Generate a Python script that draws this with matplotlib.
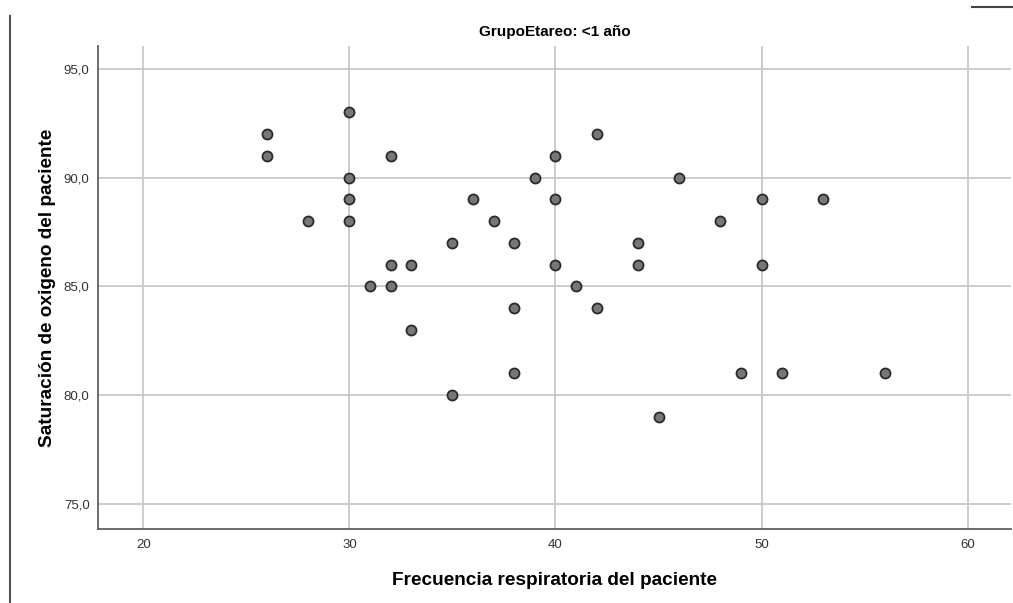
import matplotlib.pyplot as plt
from matplotlib.lines import Line2D

# respiratory rate vs oxygen saturation, age group <1 year
freq_resp = [26, 26, 28, 30, 30, 30, 30, 31, 32, 32, 32, 33, 33, 35, 35, 36, 37,
             38, 38, 38, 39, 40, 40, 40, 41, 42, 42, 44, 44, 45, 46, 48, 49, 50,
             50, 51, 53, 56]
saturacion = [92, 91, 88, 93, 90, 89, 88, 85, 91, 86, 85, 86, 83, 87, 80, 89, 88,
              87, 84, 81, 90, 91, 89, 86, 85, 92, 84, 87, 86, 79, 90, 88, 81, 89,
              86, 81, 89, 81]

x_ticks = [20, 30, 40, 50, 60]
y_ticks = [75, 80, 85, 90, 95]
y_ticklabels = ["75,0", "80,0", "85,0", "90,0", "95,0"]

plt.rcParams['font.family'] = ['Liberation Sans', 'DejaVu Sans']

fig = plt.figure(figsize=(10.13, 6.03), dpi=100)
ax = fig.add_axes([0.0967, 0.1227, 0.9013, 0.801])

ax.scatter(freq_resp, saturacion, s=52, facecolor='#777777', edgecolor='#2a2a2a',
           linewidth=1.3, zorder=3)

ax.set_xlim(17.8, 62.1)
ax.set_ylim(73.85, 96.05)
ax.set_xticks(x_ticks)
ax.set_yticks(y_ticks)
ax.set_yticklabels(y_ticklabels)

ax.grid(True, color='#c8c8c8', linewidth=1.3)
ax.set_axisbelow(True)
for s in ['top', 'right']:
    ax.spines[s].set_visible(False)
for s in ['left', 'bottom']:
    ax.spines[s].set_color('#606060')
    ax.spines[s].set_linewidth(1.3)
ax.tick_params(axis='both', length=0, labelsize=9.5, labelcolor='#333333')
ax.tick_params(axis='x', pad=7)
ax.tick_params(axis='y', pad=6)

ax.set_xlabel("Frecuencia respiratoria del paciente", fontsize=13.7, weight='bold', labelpad=15)
ax.set_ylabel("Saturación de oxigeno del paciente", fontsize=13.7, weight='bold', labelpad=6)
ax.set_title("GrupoEtareo: <1 año", fontsize=11, weight='bold', pad=7)

# frame bits of the original output
fig.add_artist(Line2D([10 / 1013, 10 / 1013], [0, 1 - 16 / 603], color='#555555', linewidth=1.5))
fig.add_artist(Line2D([972 / 1013, 1], [1 - 7 / 603, 1 - 7 / 603], color='#444444', linewidth=1.5))

fig.savefig("out.png", dpi=100)
